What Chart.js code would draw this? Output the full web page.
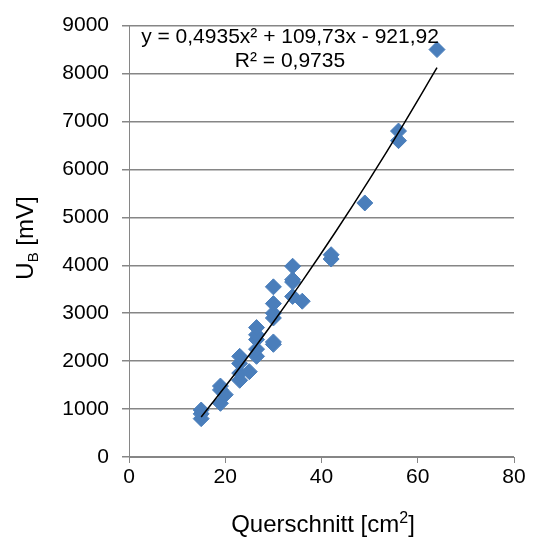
<!DOCTYPE html>
<html>
<head>
<meta charset="utf-8">
<script src="https://cdn.jsdelivr.net/npm/chart.js@4"></script>
<style>
  html, body { margin: 0; padding: 0; background: #fff; }
  #wrap { width: 535px; height: 544px; }
</style>
</head>
<body>
<div id="wrap"><canvas id="chart" width="535" height="544"></canvas></div>
<script>
// Messwerte: Querschnitt [cm²] und U_B [mV]
const querschnitt = [15, 15, 15, 19, 19, 19, 20, 23, 23, 23, 23, 25, 26.5, 26.5, 26.5, 26.5, 26.5,
  30, 30, 30, 30, 30, 30, 34, 34, 34, 34, 36, 42, 42, 49, 56, 56, 64];
const spannung = [800, 900, 980, 1400, 1480, 1120, 1300, 1600, 1750, 1950, 2100, 1780, 2100, 2250, 2450, 2550, 2700,
  2350, 2400, 2900, 3000, 3200, 3550, 3350, 3650, 3700, 3980, 3250, 4130, 4220, 5300, 6600, 6800, 8500];

// Trendlinie (Polynom 2. Ordnung)
const trendX = [15, 22, 29, 36, 43, 50, 57, 64];
const trendY = [835, 1731, 2675, 3668, 4709, 5798, 6936, 8122];

const xTicks = [0, 20, 40, 60, 80];
const yTicks = [0, 1000, 2000, 3000, 4000, 5000, 6000, 7000, 8000, 9000];

const FONT = 'Liberation Sans, Arial, sans-serif';

const punkte = querschnitt.map((x, i) => ({ x: x, y: spannung[i] }));
const trend = trendX.map((x, i) => ({ x: x, y: trendY[i] }));

// Achsentitel + Gleichung selbst zeichnen (Subskript/Superskript)
const textPlugin = {
  id: 'texte',
  afterDraw(chart) {
    const ctx = chart.ctx;
    ctx.save();
    ctx.fillStyle = '#000';
    ctx.textBaseline = 'alphabetic';
    ctx.textAlign = 'left';

    // x-Achsentitel
    const a = 'Querschnitt [cm';
    ctx.font = '16px ' + FONT;
    const wSup = ctx.measureText('2').width;
    ctx.font = '24px ' + FONT;
    const wa = ctx.measureText(a).width;
    const wb = ctx.measureText(']').width;
    const x0 = 323 - (wa + wSup + wb) / 2;
    const by = 532;
    ctx.fillText(a, x0, by);
    ctx.font = '16px ' + FONT;
    ctx.fillText('2', x0 + wa, by - 9);
    ctx.font = '24px ' + FONT;
    ctx.fillText(']', x0 + wa + wSup, by);

    // y-Achsentitel
    ctx.translate(33, 238);
    ctx.rotate(-Math.PI / 2);
    ctx.font = '24px ' + FONT;
    const rest = ' [mV]';
    const wu = ctx.measureText('U').width;
    const wr = ctx.measureText(rest).width;
    ctx.font = '15px ' + FONT;
    const wsub = ctx.measureText('B').width;
    const s = -(wu + wsub + wr) / 2;
    ctx.font = '24px ' + FONT;
    ctx.fillText('U', s, 0);
    ctx.font = '15px ' + FONT;
    ctx.fillText('B', s + wu, 5);
    ctx.font = '24px ' + FONT;
    ctx.fillText(rest, s + wu + wsub, 0);
    ctx.restore();

    // Gleichung
    ctx.save();
    ctx.fillStyle = '#000';
    ctx.font = '21px ' + FONT;
    ctx.textAlign = 'center';
    ctx.fillText('y = 0,4935x² + 109,73x - 921,92', 290, 43);
    ctx.fillText('R² = 0,9735', 290, 67);
    ctx.restore();
  }
};

const ctx = document.getElementById('chart').getContext('2d');
new Chart(ctx, {
  type: 'scatter',
  data: {
    datasets: [
      {
        label: 'Messwerte',
        data: punkte,
        backgroundColor: '#4A7EBB',
        borderColor: '#4A7EBB',
        pointStyle: 'rectRot',
        pointRadius: 8,
        pointHoverRadius: 8,
        order: 2
      },
      {
        label: 'Trend',
        type: 'line',
        data: trend,
        borderColor: '#000',
        borderWidth: 1.5,
        pointRadius: 0,
        tension: 0.4,
        fill: false,
        order: 1
      }
    ]
  },
  options: {
    responsive: false,
    animation: false,
    layout: { padding: { top: 22, right: 21, left: 0, bottom: 0 } },
    plugins: {
      legend: { display: false },
      tooltip: { enabled: false }
    },
    scales: {
      x: {
        type: 'linear',
        min: 0,
        max: 80,
        afterBuildTicks: (scale) => { scale.ticks = xTicks.map(v => ({ value: v })); },
        afterFit: (scale) => { scale.height = 87; },
        grid: {
          display: true,
          drawOnChartArea: false,
          drawTicks: true,
          tickLength: 6,
          color: '#868686'
        },
        border: { color: '#868686', width: 1 },
        ticks: {
          color: '#000',
          padding: 2,
          font: { family: FONT, size: 21 }
        }
      },
      y: {
        type: 'linear',
        min: 0,
        max: 9000,
        afterBuildTicks: (scale) => { scale.ticks = yTicks.map(v => ({ value: v })); },
        afterFit: (scale) => { scale.width = 129; },
        grid: {
          color: '#868686',
          lineWidth: 1.5,
          drawTicks: true,
          tickLength: 7
        },
        border: { color: '#868686', width: 1 },
        ticks: {
          color: '#000',
          padding: 13,
          font: { family: FONT, size: 21 },
          callback: (v) => String(v)
        }
      }
    }
  },
  plugins: [textPlugin]
});
</script>
</body>
</html>
